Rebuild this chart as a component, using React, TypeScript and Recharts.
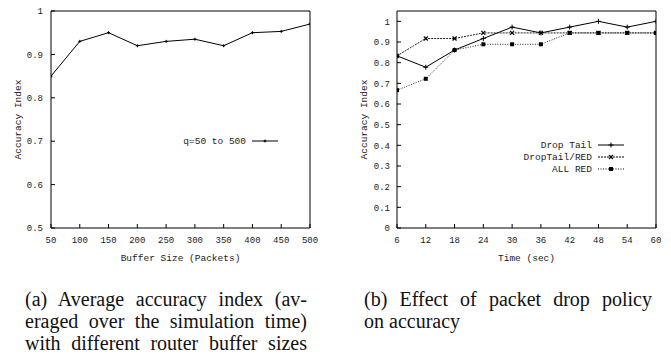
import React from 'react';
import { LineChart, Line, XAxis, YAxis, Legend } from 'recharts';

// (a) buffer size sweep
const bufferSizes = [50, 100, 150, 200, 250, 300, 350, 400, 450, 500];
const avgAccuracy = [0.85, 0.93, 0.95, 0.92, 0.93, 0.935, 0.92, 0.95, 0.953, 0.97];
const bufferTicks = [50, 100, 150, 200, 250, 300, 350, 400, 450, 500];
const accTicksA = [0.5, 0.6, 0.7, 0.8, 0.9, 1];

// (b) drop policy over time
const times = [6, 12, 18, 24, 30, 36, 42, 48, 54, 60];
const dropTail = [0.833, 0.778, 0.861, 0.917, 0.972, 0.944, 0.972, 1.0, 0.972, 1.0];
const dropTailRed = [0.833, 0.917, 0.917, 0.944, 0.944, 0.944, 0.944, 0.944, 0.944, 0.944];
const allRed = [0.667, 0.722, 0.861, 0.889, 0.889, 0.889, 0.944, 0.944, 0.944, 0.944];
const timeTicks = [6, 12, 18, 24, 30, 36, 42, 48, 54, 60];
const accTicksB = [0, 0.1, 0.2, 0.3, 0.4, 0.5, 0.6, 0.7, 0.8, 0.9, 1];

const captionA = [
  '(a) Average accuracy index (av-',
  'eraged over the simulation time)',
  'with different router buffer sizes',
];
const captionB = ['(b) Effect of packet drop policy', 'on accuracy'];

const dataA = bufferSizes.map((b, i) => ({ size: b, q: avgAccuracy[i] }));
const dataB = times.map((t, i) => ({
  t,
  dropTail: dropTail[i],
  dropTailRed: dropTailRed[i],
  allRed: allRed[i],
}));

const seriesB = [
  { key: 'dropTail', name: 'Drop Tail', dash: undefined, marker: 'plus', color: '#000' },
  { key: 'dropTailRed', name: 'DropTail/RED', dash: '2 1', marker: 'cross', color: '#222' },
  { key: 'allRed', name: 'ALL RED', dash: '1 1.5', marker: 'square', color: '#222' },
];

const mono = 'Liberation Mono, monospace';
const serif = 'Liberation Serif, serif';
const tickStyle = { fontFamily: mono, fontSize: 9, fill: '#222' };

const Marker = ({ cx, cy, kind }: { cx: number; cy: number; kind: string }) => {
  if (cx == null || cy == null) return <g />;
  if (kind === 'square') {
    return <rect x={cx - 2} y={cy - 2} width={4} height={4} fill="#000" />;
  }
  if (kind === 'cross') {
    return (
      <path
        d={`M${cx - 2} ${cy - 2}L${cx + 2} ${cy + 2}M${cx - 2} ${cy + 2}L${cx + 2} ${cy - 2}`}
        stroke="#000"
        strokeWidth={1.2}
      />
    );
  }
  const s = kind === 'dot' ? 1.5 : 2.5;
  return (
    <path
      d={`M${cx - s} ${cy}H${cx + s}M${cx} ${cy - s}V${cy + s}`}
      stroke="#000"
      strokeWidth={1}
    />
  );
};

const dotFn = (kind: string) => (p: any) =>
  <Marker key={`m-${kind}-${p.index}`} cx={p.cx} cy={p.cy} kind={kind} />;

const LegendRow = ({ label, dash, marker, textWidth }: any) => (
  <div style={{ display: 'flex', alignItems: 'center', height: 12 }}>
    <span
      style={{
        width: textWidth,
        textAlign: 'right',
        fontFamily: mono,
        fontSize: 9.5,
        color: '#222',
        whiteSpace: 'nowrap',
      }}
    >
      {label}
    </span>
    <svg width={32} height={12}>
      <line x1={6} y1={6} x2={32} y2={6} stroke="#000" strokeWidth={1} strokeDasharray={dash} />
      <Marker cx={19} cy={6} kind={marker} />
    </svg>
  </div>
);

const yTitle = (x: number) => (props: any) => {
  const cy = 11 + 217 / 2;
  return (
    <text
      x={x}
      y={cy}
      transform={`rotate(-90 ${x} ${cy})`}
      textAnchor="middle"
      dominantBaseline="middle"
      fontFamily={mono}
      fontSize={9.5}
      fill="#222"
    >
      {props.value}
    </text>
  );
};

const xTitle = (props: any) => {
  const vb = props.viewBox;
  return (
    <text
      x={vb.x + vb.width / 2}
      y={261}
      textAnchor="middle"
      fontFamily={mono}
      fontSize={9.5}
      fill="#222"
    >
      {props.value}
    </text>
  );
};

const captionLine = (text: string, justify: boolean, key: number) => (
  <div
    key={key}
    style={{ textAlign: justify ? 'justify' : 'left', textAlignLast: justify ? 'justify' : 'left' } as any}
  >
    {text}
  </div>
);

const captionStyle: React.CSSProperties = {
  position: 'absolute',
  top: 288,
  fontFamily: serif,
  fontSize: 20,
  lineHeight: '22px',
  color: '#111',
};

export default function App() {
  return (
    <div style={{ position: 'absolute', left: 0, top: 0, width: 671, height: 356, background: '#fff' }}>
      <div style={{ position: 'absolute', left: 0, top: 0 }}>
        <LineChart width={335} height={270} data={dataA} margin={{ top: 10, right: 24, bottom: 0, left: 0 }}>
          <XAxis
            dataKey="size"
            type="number"
            domain={[50, 500]}
            ticks={bufferTicks}
            interval={0}
            height={42}
            tickSize={-4}
            tickMargin={13}
            tick={tickStyle}
            stroke="#000"
            allowDataOverflow
            label={{ value: 'Buffer Size (Packets)', content: xTitle }}
          />
          <XAxis
            xAxisId="top"
            orientation="top"
            type="number"
            domain={[50, 500]}
            ticks={bufferTicks}
            interval={0}
            height={1}
            tickSize={-4}
            tick={false}
            stroke="#000"
            allowDataOverflow
          />
          <YAxis
            type="number"
            domain={[0.5, 1]}
            ticks={accTicksA}
            interval={0}
            width={51}
            tickSize={-4}
            tickMargin={12}
            tick={tickStyle}
            stroke="#000"
            allowDataOverflow
            label={{ value: 'Accuracy Index', content: yTitle(18) }}
          />
          <YAxis
            yAxisId="right"
            orientation="right"
            type="number"
            domain={[0.5, 1]}
            ticks={accTicksA}
            interval={0}
            width={1}
            tickSize={-4}
            tick={false}
            stroke="#000"
            allowDataOverflow
          />
          <Line
            dataKey="q"
            name="q=50 to 500"
            stroke="#000"
            strokeWidth={1}
            dot={dotFn('dot')}
            isAnimationActive={false}
          />
          <Legend
            layout="horizontal"
            verticalAlign="middle"
            align="center"
            wrapperStyle={{ left: 150, top: 135, width: 140, height: 12 }}
            content={(p: any) => (
              <div>
                {(p.payload || []).map((e: any, i: number) => (
                  <LegendRow key={i} label={e.value} marker="dot" textWidth={96} />
                ))}
              </div>
            )}
          />
        </LineChart>
      </div>

      <div style={{ position: 'absolute', left: 335, top: 0 }}>
        <LineChart width={336} height={270} data={dataB} margin={{ top: 10, right: 14, bottom: 0, left: 0 }}>
          <XAxis
            dataKey="t"
            type="number"
            domain={[6, 60]}
            ticks={timeTicks}
            interval={0}
            height={42}
            tickSize={-4}
            tickMargin={13}
            tick={tickStyle}
            stroke="#000"
            allowDataOverflow
            label={{ value: 'Time (sec)', content: xTitle }}
          />
          <XAxis
            xAxisId="top"
            orientation="top"
            type="number"
            domain={[6, 60]}
            ticks={timeTicks}
            interval={0}
            height={1}
            tickSize={-4}
            tick={false}
            stroke="#000"
            allowDataOverflow
          />
          <YAxis
            type="number"
            domain={[0, 1.05]}
            ticks={accTicksB}
            interval={0}
            width={62}
            tickSize={-4}
            tickMargin={11}
            tick={tickStyle}
            stroke="#000"
            allowDataOverflow
            label={{ value: 'Accuracy Index', content: yTitle(29) }}
          />
          <YAxis
            yAxisId="right"
            orientation="right"
            type="number"
            domain={[0, 1.05]}
            ticks={accTicksB}
            interval={0}
            width={1}
            tickSize={-4}
            tick={false}
            stroke="#000"
            allowDataOverflow
          />
          {seriesB.map((s) => (
            <Line
              key={s.key}
              dataKey={s.key}
              name={s.name}
              stroke={s.color}
              strokeWidth={1}
              strokeDasharray={s.dash}
              dot={dotFn(s.marker)}
              isAnimationActive={false}
            />
          ))}
          <Legend
            layout="horizontal"
            verticalAlign="middle"
            align="center"
            wrapperStyle={{ left: 157, top: 139, width: 140, height: 36 }}
            content={(p: any) => {
              const items = p.payload || [];
              return (
                <div>
                  {seriesB.map((s, i) => {
                    const e = items.find((x: any) => x.dataKey === s.key);
                    return (
                      <LegendRow
                        key={i}
                        label={e ? e.value : s.name}
                        dash={s.dash}
                        marker={s.marker}
                        textWidth={100}
                      />
                    );
                  })}
                </div>
              );
            }}
          />
        </LineChart>
      </div>

      <div style={{ ...captionStyle, left: 25, width: 282 }}>
        {captionA.map((t, i) => captionLine(t, true, i))}
      </div>
      <div style={{ ...captionStyle, left: 364, width: 288 }}>
        {captionB.map((t, i) => captionLine(t, i < captionB.length - 1, i))}
      </div>
    </div>
  );
}
